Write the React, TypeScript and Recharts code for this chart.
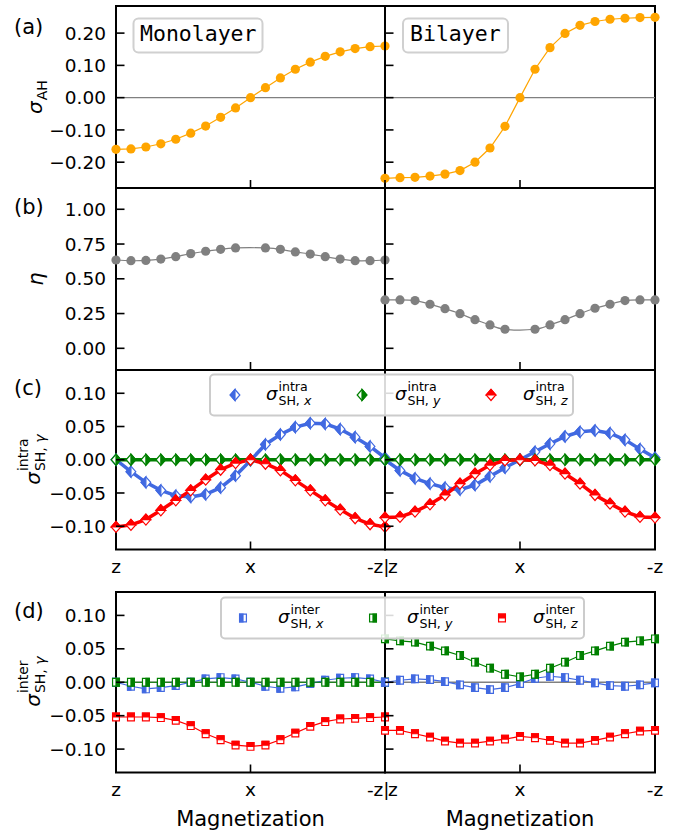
import React from "react";
import { LineChart, Line, XAxis, YAxis, ReferenceArea, ReferenceLine } from "recharts";

// magnetization angle from z (0) through x (90) to -z (180)
const angles = [0, 10, 20, 30, 40, 50, 60, 70, 80, 90, 100, 110, 120, 130, 140, 150, 160, 170, 180];
const xTickValues = [0, 90, 180];
const monoXLabels = ["z", "x", "-z|"];
const biXLabels = ["z", "x", "-z"];

// (a) anomalous Hall
const ahMono = [-0.160, -0.159, -0.153, -0.143, -0.129, -0.110, -0.088, -0.061, -0.032, 0.0, 0.031, 0.061, 0.088, 0.110, 0.128, 0.142, 0.152, 0.158, 0.160];
const ahBi = [-0.250, -0.248, -0.247, -0.243, -0.237, -0.226, -0.200, -0.156, -0.089, 0.0, 0.088, 0.155, 0.199, 0.224, 0.236, 0.243, 0.246, 0.248, 0.249];

// (b) eta (no point computed at x)
const etaMono = [0.635, 0.630, 0.632, 0.642, 0.659, 0.681, 0.698, 0.712, 0.722, null, 0.722, 0.712, 0.693, 0.678, 0.659, 0.642, 0.630, 0.630, 0.635];
const etaBi = [0.348, 0.348, 0.343, 0.317, 0.285, 0.249, 0.206, 0.168, 0.137, null, 0.137, 0.168, 0.206, 0.249, 0.288, 0.317, 0.343, 0.348, 0.348];

// (c) intra spin Hall
const intraXMono = [0.0, -0.018, -0.034, -0.046, -0.054, -0.056, -0.052, -0.042, -0.024, -0.001, 0.023, 0.038, 0.049, 0.055, 0.054, 0.046, 0.034, 0.020, 0.003];
const intraYMono = [0, 0, 0, 0, 0, 0, 0, 0, 0, 0, 0, 0, 0, 0, 0, 0, 0, 0, 0];
const intraZMono = [-0.101, -0.098, -0.090, -0.076, -0.061, -0.046, -0.030, -0.015, -0.005, 0.0, -0.006, -0.016, -0.031, -0.046, -0.061, -0.075, -0.088, -0.097, -0.101];
const intraXBi = [0.0, -0.016, -0.028, -0.036, -0.042, -0.045, -0.038, -0.025, -0.012, 0.0, 0.012, 0.024, 0.035, 0.042, 0.044, 0.040, 0.030, 0.016, 0.003];
const intraYBi = [0, 0, 0, 0, 0, 0, 0, 0, 0, 0, 0, 0, 0, 0, 0, 0, 0, 0, 0];
const intraZBi = [-0.087, -0.086, -0.078, -0.067, -0.053, -0.036, -0.021, -0.008, -0.001, 0.0, -0.001, -0.008, -0.021, -0.036, -0.053, -0.066, -0.078, -0.086, -0.087];

// (d) inter spin Hall
const interXMono = [0.0, -0.006, -0.010, -0.008, -0.005, 0.0, 0.005, 0.007, 0.005, 0.0, -0.006, -0.009, -0.007, -0.002, 0.003, 0.006, 0.007, 0.005, 0.0];
const interYMono = [0, 0, 0, 0, 0, 0, 0, 0, 0, 0, 0, 0, 0, 0, 0, 0, 0, 0, 0];
const interZMono = [-0.052, -0.052, -0.052, -0.053, -0.057, -0.065, -0.077, -0.086, -0.094, -0.096, -0.094, -0.086, -0.076, -0.066, -0.059, -0.055, -0.054, -0.053, -0.052];
const interXBi = [0.0, 0.003, 0.005, 0.004, 0.001, -0.004, -0.008, -0.011, -0.008, -0.002, 0.006, 0.009, 0.007, 0.003, -0.001, -0.005, -0.006, -0.004, -0.001];
const interYBi = [0.065, 0.062, 0.060, 0.054, 0.047, 0.040, 0.030, 0.021, 0.012, 0.008, 0.012, 0.021, 0.030, 0.040, 0.047, 0.054, 0.060, 0.062, 0.065];
const interZBi = [-0.072, -0.072, -0.077, -0.082, -0.088, -0.091, -0.091, -0.088, -0.085, -0.081, -0.083, -0.087, -0.091, -0.091, -0.087, -0.082, -0.077, -0.073, -0.072];

const yTicksA = [-0.2, -0.1, 0, 0.1, 0.2];
const yTicksB = [0, 0.25, 0.5, 0.75, 1.0];
const yTicksSH = [-0.1, -0.05, 0, 0.05, 0.1];

const FONT = "'DejaVu Sans', sans-serif";
const MONO = "'DejaVu Sans Mono', monospace";
const ORANGE = "#ffa500";
const GRAY = "#808080";
const BLUE = "#4169e1";
const GREEN = "#008000";
const RED = "#ff0000";

type Shape = "circle" | "diamond" | "square";
type Half = "full" | "left" | "right" | "top";

function Marker({ shape, cx, cy, color, half, size }: { shape: Shape; cx: number; cy: number; color: string; half: Half; size: number }) {
  if (shape === "circle") return <circle cx={cx} cy={cy} r={size} fill={color} />;
  const h = size;
  const w = shape === "diamond" ? size * 0.88 : size * 0.9;
  let outline: string;
  let part: string;
  if (shape === "diamond") {
    outline = `M${cx},${cy - h}L${cx + w},${cy}L${cx},${cy + h}L${cx - w},${cy}Z`;
    if (half === "left") part = `M${cx},${cy - h}L${cx - w},${cy}L${cx},${cy + h}Z`;
    else if (half === "right") part = `M${cx},${cy - h}L${cx + w},${cy}L${cx},${cy + h}Z`;
    else part = `M${cx - w},${cy}L${cx},${cy - h}L${cx + w},${cy}Z`;
  } else {
    outline = `M${cx - w},${cy - h}H${cx + w}V${cy + h}H${cx - w}Z`;
    if (half === "left") part = `M${cx - w},${cy - h}H${cx}V${cy + h}H${cx - w}Z`;
    else if (half === "right") part = `M${cx},${cy - h}H${cx + w}V${cy + h}H${cx}Z`;
    else part = `M${cx - w},${cy - h}H${cx + w}V${cy}H${cx - w}Z`;
  }
  return (
    <g>
      <path d={outline} fill="#fff" stroke={color} strokeWidth={1.2} />
      <path d={part} fill={color} stroke={color} strokeWidth={1.2} />
    </g>
  );
}

interface Series {
  values: (number | null)[];
  color: string;
  width: number;
  curve: "linear" | "natural";
  shape: Shape;
  half: Half;
  size: number;
}

const fmt = (v: number) => v.toFixed(2).replace("-", "\u2212");

function YTick(props: any) {
  const { x, y, payload, showLabel } = props;
  return (
    <g>
      <line x1={x} x2={x + 8.5} y1={y} y2={y} stroke="#000" strokeWidth={1.6} />
      {showLabel && (
        <text x={x - 10} y={y} dy="0.36em" textAnchor="end" fontFamily={FONT} fontSize={18.5} fill="#000">
          {fmt(payload.value)}
        </text>
      )}
    </g>
  );
}

function XTick(props: any) {
  const { x, y, index, labels, anchors } = props;
  const anchor = anchors ? anchors[index] : "middle";
  const tx = anchor === "end" ? x + 4.5 : anchor === "start" ? x + 3 : x;
  return (
    <g>
      <line x1={x} x2={x} y1={y} y2={y - 8} stroke="#000" strokeWidth={1.6} />
      {labels && (
        <text x={tx} y={y + 23.5} textAnchor={anchor} fontFamily={FONT} fontSize={18.5} fill="#000">
          {labels[index]}
        </text>
      )}
    </g>
  );
}

interface PanelProps {
  plotLeft: number;
  plotTop: number;
  plotW: number;
  plotH: number;
  domain: [number, number];
  yTicks: number[];
  yLabels: boolean;
  xLabels: string[] | null;
  xAnchors: string[];
  zeroLine: boolean;
  series: Series[];
}

function Panel(p: PanelProps) {
  const yAxisW = p.yLabels ? p.plotLeft : 12;
  const rightPad = 12;
  const topPad = 10;
  const xAxisH = p.xLabels ? 36 : 12;
  const data = angles.map((deg, i) => {
    const row: Record<string, number | null> = { deg };
    p.series.forEach((s, k) => {
      row[`s${k}`] = s.values[i];
    });
    return row;
  });
  return (
    <div style={{ position: "absolute", left: p.plotLeft - yAxisW, top: p.plotTop - topPad }}>
      <LineChart
        width={yAxisW + p.plotW + rightPad}
        height={topPad + p.plotH + xAxisH}
        data={data}
        margin={{ top: topPad, right: rightPad, bottom: 0, left: 0 }}
      >
        <XAxis
          type="number"
          dataKey="deg"
          domain={[0, 180]}
          ticks={xTickValues}
          interval={0}
          tickSize={0}
          tickMargin={0}
          tickLine={false}
          axisLine={false}
          height={xAxisH}
          tick={(t: any) => <XTick {...t} labels={p.xLabels} anchors={p.xAnchors} />}
        />
        <YAxis
          type="number"
          domain={p.domain}
          ticks={p.yTicks}
          interval={0}
          tickSize={0}
          tickMargin={0}
          tickLine={false}
          axisLine={false}
          width={yAxisW}
          tick={(t: any) => <YTick {...t} showLabel={p.yLabels} />}
        />
        {p.zeroLine && <ReferenceLine y={0} stroke={GRAY} strokeWidth={1.3} />}
        <ReferenceArea
          x1={0}
          x2={180}
          y1={p.domain[0]}
          y2={p.domain[1]}
          fill="none"
          stroke="#000"
          strokeWidth={2}
          ifOverflow="visible"
        />
        {p.series.map((s, k) => (
          <Line
            key={k}
            type={s.curve}
            dataKey={`s${k}`}
            stroke={s.color}
            strokeWidth={s.width}
            connectNulls
            activeDot={false}
            isAnimationActive={false}
            dot={(d: any) => {
              if (d.value == null || d.cy == null || Number.isNaN(d.cy)) return <g key={`d${k}-${d.index}`} />;
              return (
                <Marker key={`d${k}-${d.index}`} shape={s.shape} cx={d.cx} cy={d.cy} color={s.color} half={s.half} size={s.size} />
              );
            }}
          />
        ))}
      </LineChart>
    </div>
  );
}

const circ = (values: (number | null)[], color: string, curve: "linear" | "natural"): Series => ({
  values, color, width: 1.2, curve, shape: "circle", half: "full", size: 4.6,
});
const dia = (values: number[], color: string, half: Half): Series => ({
  values, color, width: 3.5, curve: "linear", shape: "diamond", half, size: 5.5,
});
const sq = (values: number[], color: string, half: Half): Series => ({
  values, color, width: 1.2, curve: "linear", shape: "square", half, size: 3.8,
});

function SigmaLabel({ x, y, size, sup, sub, subItalic, supDy, subDy }: any) {
  const s = size * 0.7;
  const sx = x + size * 0.634 + 1;
  return (
    <g fontFamily={FONT} fill="#000">
      <text x={x} y={y} fontSize={size} fontStyle="italic">σ</text>
      {sup && (
        <text x={sx} y={y + supDy} fontSize={s}>
          {sup}
        </text>
      )}
      <text x={sx} y={y + subDy} fontSize={s}>
        {sub}
        {subItalic && <tspan fontStyle="italic">{subItalic}</tspan>}
      </text>
    </g>
  );
}

function LegendBox({ x, y, w, h, shape, sup, entries }: any) {
  return (
    <g>
      <rect x={x} y={y} width={w} height={h} rx={4} fill="#fff" fillOpacity={0.85} stroke="#cccccc" strokeWidth={2} />
      {entries.map((e: any, i: number) => (
        <g key={i}>
          <Marker shape={shape} cx={e.mx} cy={y + h / 2} color={e.color} half={e.half} size={shape === "diamond" ? 5.5 : 3.8} />
          <SigmaLabel x={e.tx} y={y + h / 2 + 5} size={18} sup={sup} sub="SH, " subItalic={e.comp} supDy={-9.5} subDy={5} />
        </g>
      ))}
    </g>
  );
}

const LEFT = 116;
const RIGHT = 385;
const WL = 269;
const WR = 270;
const rows = [
  { top: 6, h: 182 },
  { top: 188, h: 182 },
  { top: 370, h: 179.5 },
  { top: 591.5, h: 180.5 },
];
const leftAnchors = ["middle", "middle", "end"];
const rightAnchors = ["start", "middle", "middle"];

export default function App() {
  const common = (col: "L" | "R") => ({
    plotLeft: col === "L" ? LEFT : RIGHT,
    plotW: col === "L" ? WL : WR,
    yLabels: col === "L",
    xAnchors: col === "L" ? leftAnchors : rightAnchors,
  });
  return (
    <div style={{ position: "absolute", left: 0, top: 0, width: 677, height: 834, background: "#fff" }}>
      <Panel {...common("L")} plotTop={rows[0].top} plotH={rows[0].h} domain={[-0.28, 0.284]} yTicks={yTicksA} xLabels={null} zeroLine series={[circ(ahMono, ORANGE, "linear")]} />
      <Panel {...common("R")} plotTop={rows[0].top} plotH={rows[0].h} domain={[-0.28, 0.284]} yTicks={yTicksA} xLabels={null} zeroLine series={[circ(ahBi, ORANGE, "linear")]} />
      <Panel {...common("L")} plotTop={rows[1].top} plotH={rows[1].h} domain={[-0.156, 1.153]} yTicks={yTicksB} xLabels={null} zeroLine={false} series={[circ(etaMono, GRAY, "natural")]} />
      <Panel {...common("R")} plotTop={rows[1].top} plotH={rows[1].h} domain={[-0.156, 1.153]} yTicks={yTicksB} xLabels={null} zeroLine={false} series={[circ(etaBi, GRAY, "natural")]} />
      <Panel {...common("L")} plotTop={rows[2].top} plotH={rows[2].h} domain={[-0.135, 0.135]} yTicks={yTicksSH} xLabels={monoXLabels} zeroLine
        series={[dia(intraXMono, BLUE, "left"), dia(intraYMono, GREEN, "right"), dia(intraZMono, RED, "top")]} />
      <Panel {...common("R")} plotTop={rows[2].top} plotH={rows[2].h} domain={[-0.135, 0.135]} yTicks={yTicksSH} xLabels={biXLabels} zeroLine
        series={[dia(intraXBi, BLUE, "left"), dia(intraYBi, GREEN, "right"), dia(intraZBi, RED, "top")]} />
      <Panel {...common("L")} plotTop={rows[3].top} plotH={rows[3].h} domain={[-0.135, 0.135]} yTicks={yTicksSH} xLabels={monoXLabels} zeroLine
        series={[sq(interXMono, BLUE, "left"), sq(interYMono, GREEN, "right"), sq(interZMono, RED, "top")]} />
      <Panel {...common("R")} plotTop={rows[3].top} plotH={rows[3].h} domain={[-0.135, 0.135]} yTicks={yTicksSH} xLabels={biXLabels} zeroLine
        series={[sq(interXBi, BLUE, "left"), sq(interYBi, GREEN, "right"), sq(interZBi, RED, "top")]} />

      <svg width={677} height={834} style={{ position: "absolute", left: 0, top: 0, pointerEvents: "none" }}>
        <g fontFamily={FONT} fontSize={21} fill="#000">
          <text x={14} y={34}>(a)</text>
          <text x={14} y={214}>(b)</text>
          <text x={14} y={395}>(c)</text>
          <text x={14} y={618}>(d)</text>
          <text x={250.5} y={826} textAnchor="middle">Magnetization</text>
          <text x={520} y={826} textAnchor="middle">Magnetization</text>
        </g>

        <rect x={133.5} y={18.5} width={129} height={34} rx={5} fill="#fff" stroke="#d0d0d0" strokeWidth={2} />
        <text x={140} y={41} fontFamily={MONO} fontSize={21.5} fill="#000">Monolayer</text>
        <rect x={403} y={18.5} width={105} height={34} rx={5} fill="#fff" stroke="#d0d0d0" strokeWidth={2} />
        <text x={410} y={41} fontFamily={MONO} fontSize={21.5} fill="#000">Bilayer</text>

        <g transform="translate(0,97) rotate(-90)">
          <SigmaLabel x={-17} y={41.5} size={20} sub="AH" supDy={0} subDy={5} />
        </g>
        <g transform="translate(0,279) rotate(-90)">
          <text x={0} y={43} textAnchor="middle" fontFamily={FONT} fontSize={21} fontStyle="italic" fill="#000">η</text>
        </g>
        <g transform="translate(0,459.75) rotate(-90)">
          <SigmaLabel x={-25} y={40} size={20} sup="intra" sub="SH, " subItalic="γ" supDy={-12.5} subDy={5} />
        </g>
        <g transform="translate(0,681.75) rotate(-90)">
          <SigmaLabel x={-25} y={40} size={20} sup="inter" sub="SH, " subItalic="γ" supDy={-12.5} subDy={5} />
        </g>

        <LegendBox x={210} y={374.5} w={363} h={41} shape="diamond" sup="intra"
          entries={[
            { mx: 235, tx: 266, color: BLUE, half: "left", comp: "x" },
            { mx: 362, tx: 395, color: GREEN, half: "right", comp: "y" },
            { mx: 491, tx: 523, color: RED, half: "top", comp: "z" },
          ]} />
        <LegendBox x={221} y={597.5} w={363} h={41} shape="square" sup="inter"
          entries={[
            { mx: 243, tx: 278, color: BLUE, half: "left", comp: "x" },
            { mx: 373, tx: 407, color: GREEN, half: "right", comp: "y" },
            { mx: 502, tx: 533, color: RED, half: "top", comp: "z" },
          ]} />
      </svg>
    </div>
  );
}
